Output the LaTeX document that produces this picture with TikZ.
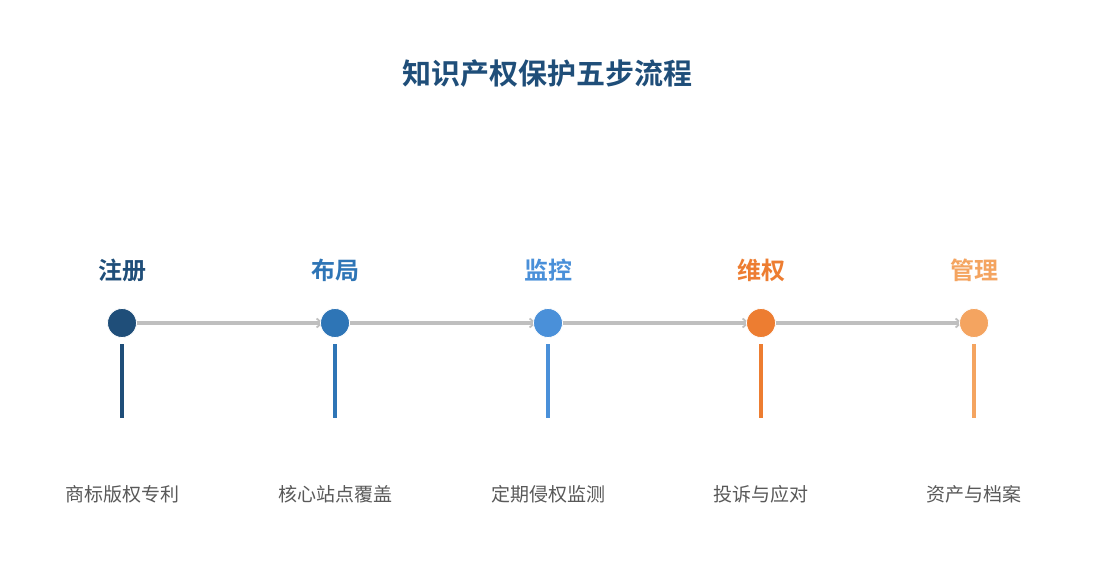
\documentclass[tikz,border=0pt]{standalone}
\usepackage{fontspec}
\setmainfont{Noto Sans CJK SC}
\newfontfamily\cjkb{Noto Sans CJK SC Bold}
\usetikzlibrary{arrows.meta}
\definecolor{cA}{HTML}{1F4E79}
\definecolor{cB}{HTML}{2E75B6}
\definecolor{cC}{HTML}{4A90D9}
\definecolor{cD}{HTML}{ED7D31}
\definecolor{cE}{HTML}{F4A460}
\definecolor{lineg}{HTML}{BFBFBF}
\definecolor{txtg}{HTML}{595959}
\tikzset{
  dot/.style={circle, fill=#1, draw=white, line width=0.8pt, minimum size=29pt, inner sep=0pt},
  steplabel/.style={font=\cjkb\fontsize{24}{26}\selectfont, text=#1, inner sep=0pt},
  desc/.style={font=\fontsize{19}{21}\selectfont, text=txtg, inner sep=0pt},
  bar/.style={draw=#1, line width=3.5pt},
  flow/.style={draw=lineg, line width=3.5pt, -{Straight Barb[length=5pt,width=9pt,line width=1.8pt]}},
}
\begin{document}
\begin{tikzpicture}[x=1pt,y=-1pt]
\useasboundingbox (0,0) rectangle (1095,585);
\fill[white] (0,0) rectangle (1095,585);
\node[font=\cjkb\fontsize{29}{31}\selectfont, text=cA, inner sep=0pt] (title) at (547,74) {知识产权保护五步流程};
\foreach \i/\x/\c/\lab/\d in {1/122/cA/注册/商标版权专利, 2/335/cB/布局/核心站点覆盖, 3/548/cC/监控/定期侵权监测, 4/761/cD/维权/投诉与应对, 5/974/cE/管理/资产与档案}{
  \node[steplabel=\c] (l\i) at (\x,270) {\lab};
  \coordinate (bt\i) at (\x,344);
  \coordinate (bb\i) at (\x,418);
  \node[desc] (d\i) at (\x,494) {\d};
}
\foreach \i/\x in {1/122,2/335,3/548,4/761,5/974}{
  \coordinate (p\i) at (\x,323);
}
\foreach \a/\b in {1/2,2/3,3/4,4/5}{
  \draw[flow] ([xshift=14pt]p\a) -- ([xshift=-12pt]p\b);
}
\foreach \i/\c in {1/cA,2/cB,3/cC,4/cD,5/cE}{
  \node[dot=\c] (c\i) at (p\i) {};
  \draw[bar=\c] (bt\i) -- (bb\i);
}
\end{tikzpicture}
\end{document}
